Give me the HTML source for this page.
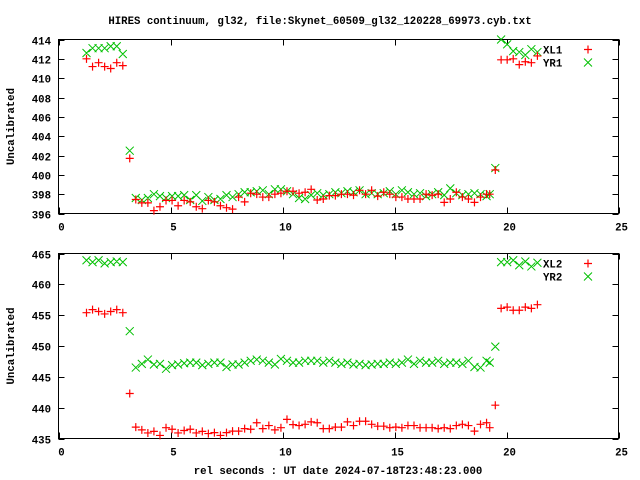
<!DOCTYPE html>
<html><head><meta charset="utf-8"><style>
html,body{margin:0;padding:0;background:#fff;}
svg{display:block;}
text{font-family:"Liberation Mono",monospace;font-weight:bold;font-size:10.7px;fill:#000;}
</style></head><body>
<svg id="chart" width="640" height="480" viewBox="0 0 640 480" xmlns="http://www.w3.org/2000/svg">
<rect x="0" y="0" width="640" height="480" fill="#fff"/>
<text x="320" y="24" text-anchor="middle">HIRES continuum, gl32, file:Skynet_60509_gl32_120228_69973.cyb.txt</text>
<text x="338" y="474" text-anchor="middle">rel seconds : UT date 2024-07-18T23:48:23.000</text>
<g id="p1"></g>
<g id="p2"></g>
</svg>
<script>
const times = [1.25,1.52,1.79,2.06,2.33,2.60,2.87,3.18,
3.45,3.72,3.99,4.26,4.53,4.80,5.07,5.34,5.61,5.88,6.15,6.42,6.69,6.96,7.23,7.50,7.77,8.04,8.31,8.58,8.85,9.12,9.39,9.66,9.93,10.20,10.47,10.74,11.01,11.28,11.55,11.82,12.09,12.36,12.63,12.90,13.17,13.44,13.71,13.98,14.25,14.52,14.79,15.06,15.33,15.60,15.87,16.14,16.41,16.68,16.95,17.22,17.49,17.76,18.03,18.30,18.57,18.84,19.11,19.25,
19.50,19.76,20.03,20.30,20.57,20.84,21.11,21.38];
const xl1 = [412.0,411.2,411.6,411.2,411.0,411.6,411.3,401.7,
397.45,397.1,397.1,396.3,396.7,397.35,397.35,396.8,397.35,397.2,396.7,396.5,397.35,397.2,396.8,396.6,396.45,397.7,397.2,398.1,398.0,397.7,397.7,398.0,398.1,398.3,398.3,398.1,398.2,398.5,397.4,397.5,397.85,397.85,398.0,
398.0,397.9,398.4,398.0,398.4,397.8,398.2,398.0,397.7,397.7,397.5,397.5,397.5,398.0,397.9,398.0,397.15,397.5,398.2,397.7,397.5,397.15,397.7,398.0,398.0,
400.5,411.9,411.9,412.0,411.4,411.7,411.6,412.3];
const yr1 = [412.6,413.1,413.1,413.1,413.3,413.3,412.5,402.5,
397.6,397.4,397.6,398.0,397.8,397.6,397.8,397.8,397.9,397.4,397.9,397.3,397.7,397.4,397.5,397.9,397.7,398.0,398.2,398.2,398.3,398.4,398.0,398.5,398.5,398.3,398.0,397.6,397.5,397.9,
398.1,397.9,398.0,398.2,398.1,398.3,398.2,398.4,398.0,398.1,398.0,398.1,398.3,398.0,398.4,398.2,398.0,398.1,397.8,398.0,398.2,397.9,398.6,398.1,397.9,398.0,398.1,398.0,397.8,398.0,
400.7,414.0,413.5,412.8,412.7,412.4,413.0,412.7];
const xl2 = [455.4,455.9,455.6,455.2,455.6,455.9,455.4,442.3,
436.85,436.4,435.9,436.15,435.5,436.75,436.5,435.9,436.3,436.5,435.9,436.15,435.8,435.95,435.5,435.95,436.2,436.2,436.6,436.5,437.55,436.6,437.1,436.4,436.75,438.1,437.25,437.1,437.3,437.7,437.55,436.6,436.6,436.85,436.85,437.7,
437.1,437.8,437.8,437.3,437.0,437.0,436.75,436.85,436.75,437.1,437.1,436.75,436.75,436.75,436.6,436.75,436.6,437.1,437.3,437.1,436.2,437.3,437.55,436.75,
440.4,456.1,456.3,455.8,455.8,456.3,456.1,456.7];
const yr2 = [463.9,463.6,463.9,463.4,463.6,463.7,463.6,452.4,
446.5,447.1,447.8,447.0,447.1,446.3,446.9,447.0,447.2,447.3,447.3,446.9,447.1,447.3,447.3,446.6,447.0,447.0,447.3,447.6,447.8,447.6,447.3,447.0,447.9,447.6,447.3,447.3,447.6,447.6,447.6,447.3,447.6,447.3,447.1,447.3,
447.0,447.1,446.9,447.0,447.1,447.1,447.3,447.1,447.3,447.8,447.1,447.6,447.3,447.3,447.6,447.1,447.3,447.3,447.1,447.6,446.6,446.5,447.6,447.3,
449.9,463.6,463.6,463.9,463.1,463.7,462.9,463.5];
const xTicks = [0,5,10,15,20,25];
const yTicks1 = [396,398,400,402,404,406,408,410,412,414];
const yTicks2 = [435,440,445,450,455,460,465];

const NS = "http://www.w3.org/2000/svg";
function mk(parent, tag, attrs){const e=document.createElementNS(NS,tag);for(const k in attrs)e.setAttribute(k,attrs[k]);parent.appendChild(e);return e;}

function panel(g, top, bottom, ymin, ymax, yTicks, s1, s2, n1, n2, key){
  const L=58.5, R=618.5;
  const sx = v => L + (v-0)/(25-0)*(R-L);
  const sy = v => bottom - (v-ymin)/(ymax-ymin)*(bottom-top);
  const frame = mk(g,'rect',{x:L,y:top,width:R-L,height:bottom-top,fill:'none',stroke:'#000','stroke-width':1});
  
  
  yTicks.forEach(t=>{
    const y=Math.round(sy(t))+0.5;
    const l1=mk(g,'path',{d:`M${L} ${y}h6M${R} ${y}h-6`,stroke:'#000','stroke-width':1});
    
    
    const tx=mk(g,'text',{x:51,y:y+4,'text-anchor':'end'});
    tx.textContent=t;
    
    
  });
  xTicks.forEach(t=>{
    const x=Math.round(sx(t))+0.5;
    const l1=mk(g,'path',{d:`M${x} ${bottom}v-6M${x} ${top}v6`,stroke:'#000','stroke-width':1});
    
    
    const tx=mk(g,'text',{x:x+2,y:bottom+17,'text-anchor':'middle'});
    tx.textContent=t;
    
    
  });
  const yl=mk(g,'text',{x:0,y:0,'text-anchor':'middle',transform:`translate(14 ${(top+bottom)/2}) rotate(-90)`});
  yl.textContent='Uncalibrated';
  
  
  const plus=(x,y)=>`M${x-4} ${y}h8M${x} ${y-4}v8`;
  const cross=(x,y)=>`M${x-4} ${y-4}l8 8M${x-4} ${y+4}l8 -8`;
  let d1='',d2='';
  times.forEach((t,i)=>{d2+=cross(sx(t),sy(s2[i]));});
  times.forEach((t,i)=>{d1+=plus(sx(t),sy(s1[i]));});
  const p2=mk(g,'path',{d:d2,stroke:'#00c000','stroke-width':1,fill:'none'});
  
  
  const p1=mk(g,'path',{d:d1,stroke:'#ff0000','stroke-width':1.2,fill:'none'});
  
  
  const lt1=mk(g,'text',{x:543,y:top+14});
  lt1.textContent=n1;
  
  
  const lt2=mk(g,'text',{x:543,y:top+27});
  lt2.textContent=n2;
  
  
  const lm1=mk(g,'path',{d:plus(588,top+10),stroke:'#ff0000','stroke-width':1.2});
  
  
  const lm2=mk(g,'path',{d:cross(588,top+23),stroke:'#00c000','stroke-width':1});
  
  
}
panel(document.getElementById('p1'),39.5,213.5,396,414,yTicks1,xl1,yr1,'XL1','YR1','top');
panel(document.getElementById('p2'),253.5,438.5,435,465,yTicks2,xl2,yr2,'XL2','YR2','bottom');
</script>
</body></html>
